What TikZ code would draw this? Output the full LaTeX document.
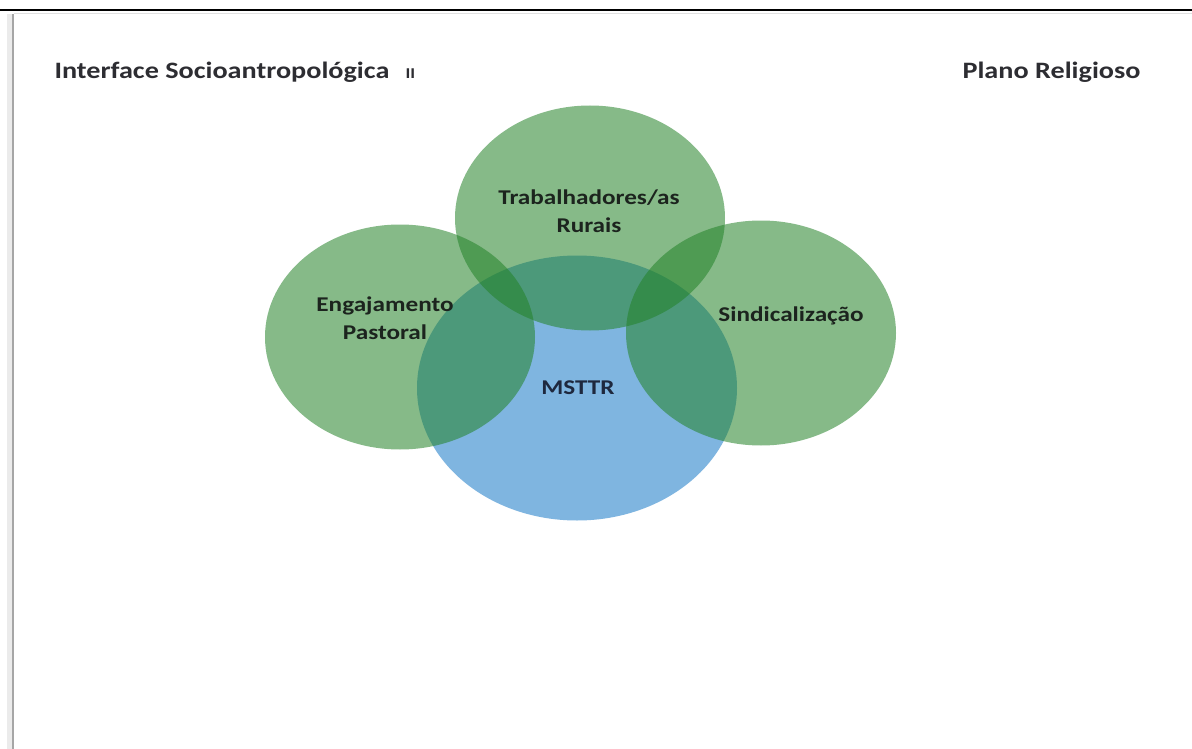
\documentclass[tikz,border=0pt]{standalone}
\usepackage{fontspec}
\setmainfont{Carlito}
\newfontfamily\widefont{Carlito}[FakeStretch=1.2]
\usetikzlibrary{shapes.geometric}

\definecolor{vennGreen}{RGB}{35,130,40}
\definecolor{vennBlue}{RGB}{127,181,224}
\definecolor{setText}{RGB}{28,36,30}
\definecolor{mstText}{RGB}{30,40,62}
\definecolor{headText}{RGB}{45,45,50}

\begin{document}
\begin{tikzpicture}[
  x=1pt, y=-1pt,
  vset/.style={ellipse, draw=none, inner sep=0pt},
  green_set/.style={vset, fill=vennGreen, fill opacity=0.55, minimum width=270pt, minimum height=225pt},
  blue_set/.style={vset, fill=vennBlue, minimum width=320pt, minimum height=265pt},
  set_label/.style={font=\widefont\bfseries\fontsize{21}{28}\selectfont, text=setText, align=center},
  head_label/.style={font=\widefont\bfseries\fontsize{23.5}{28}\selectfont, text=headText, anchor=west}
]
  \useasboundingbox (0,0) rectangle (1192,749);
  \fill[white] (0,0) rectangle (1192,749);

  % --- moldura da pagina ---
  \draw[black!12, line width=1.5pt] (14,13.5) -- (1192,13.5);
  \draw[line width=2.5pt] (0,10) -- (1192,10);
  \draw[black!8, line width=5pt] (9,14) -- (9,749);
  \draw[black!35, line width=2pt] (13,14) -- (13,749);

  % --- titulos ---
  \node[head_label] (interface) at (51,72) {Interface Socioantropológica};
  \node[head_label, font=\widefont\bfseries\fontsize{15}{18}\selectfont] (roman) at (402,74) {II};
  \node[head_label] (plano) at (959,72) {Plano Religioso};

  % --- conjuntos (azul por baixo, verdes translucidos por cima) ---
  \node[blue_set]  (mst)   at (577,388) {};
  \node[green_set] (trab)  at (590,218) {};
  \node[green_set] (engaj) at (400,337) {};
  \node[green_set] (sind)  at (761,333) {};

  % --- rotulos ---
  \node[set_label] (trab_txt)  at (589,211) {Trabalhadores/as\\Rurais};
  \node[set_label] (engaj_txt) at (385,318) {Engajamento\\Pastoral};
  \node[set_label] (sind_txt)  at (791,316) {Sindicalização};
  \node[set_label, text=mstText] (mst_txt) at (578,388) {MSTTR};
\end{tikzpicture}
\end{document}
